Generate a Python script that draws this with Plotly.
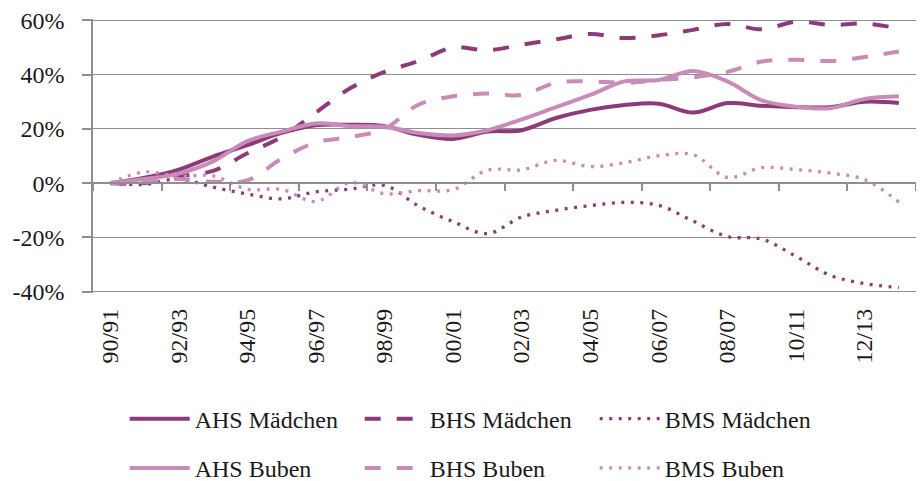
import plotly.graph_objects as go

years = ["90/91", "91/92", "92/93", "93/94", "94/95", "95/96", "96/97", "97/98",
         "98/99", "99/00", "00/01", "01/02", "02/03", "03/04", "04/05", "05/06",
         "06/07", "07/08", "08/09", "09/10", "10/11", "11/12", "12/13", "13/14"]
tick_labels = ["90/91", "92/93", "94/95", "96/97", "98/99", "00/01",
               "02/03", "04/05", "06/07", "08/07", "10/11", "12/13"]

ahs_maedchen = [0, 2, 5, 9.8, 14, 18.5, 21.3, 21.5, 21, 17.8, 16.3, 19,
                19.5, 24, 27, 28.8, 29.3, 26, 29.5, 28.5, 28, 28, 30, 29.5]
bhs_maedchen = [0, 0, 2.5, 4.5, 11, 17, 26, 35, 41, 45, 50, 49,
                51, 53, 55, 53.5, 54.5, 56.5, 58.7, 56.7, 59.5, 58.3, 58.8, 57]
bms_maedchen = [0, -0.5, 1.5, -1.5, -4, -5.8, -3.2, -2.2, -0.8, -8.5, -14.2, -18.6,
                -12.5, -10, -8.3, -7.1, -8.2, -14, -19.7, -20.6, -27, -34, -37, -38.5]
ahs_buben = [0, 1.5, 3.5, 8, 15.5, 19, 22, 21, 20.8, 18.5, 17.6, 19.5,
             23.5, 28, 32.5, 37.5, 38, 41.3, 37.5, 30.5, 28.2, 27.6, 31, 32]
bhs_buben = [0, 0.5, 1.5, 0.5, 1, 9, 15, 17, 20, 29, 32, 33,
             32.5, 37, 37.5, 37, 38, 39, 41, 44.8, 45.5, 45, 46.5, 48.5]
bms_buben = [0, 4.1, 2.5, 2.7, -2.3, -2.3, -6.8, 0.2, -3.9, -2.8, -2.4, 4.8,
             4.9, 8.4, 6.1, 7.5, 10.1, 10.5, 2.1, 5.7, 5, 3.7, 1.3, -7]
y_ticks = [-40, -20, 0, 20, 40, 60]
y_tick_labels = ["-40%", "-20%", "0%", "20%", "40%", "60%"]

DARK = "#8C3B78"
LIGHT = "#C98BB8"
GRID = "#8E8E8E"
FONT = "Liberation Serif"
TXT = "#1a1a1a"
FS = 24

x = list(range(len(years)))

series = [
    ("AHS Mädchen", ahs_maedchen, DARK, "solid", 4, "legend"),
    ("BHS Mädchen", bhs_maedchen, DARK, "16px,16px", 4, "legend"),
    ("BMS Mädchen", bms_maedchen, DARK, "3px,6.5px", 3.3, "legend"),
    ("AHS Buben", ahs_buben, LIGHT, "solid", 4, "legend2"),
    ("BHS Buben", bhs_buben, LIGHT, "16px,16px", 4, "legend2"),
    ("BMS Buben", bms_buben, LIGHT, "3px,6.5px", 3.3, "legend2"),
]

fig = go.Figure()
for name, vals, color, dash, width, leg in series:
    fig.add_trace(go.Scatter(
        x=x, y=vals, name=name, mode="lines",
        customdata=years,
        line=dict(color=color, dash=dash, width=width, shape="spline", smoothing=1),
        legend=leg,
    ))

# invisible trace carrying the tick-mark axis drawn at 0 %
fig.add_trace(go.Scatter(x=[x[0], x[-1]], y=[0, 0], xaxis="x2", mode="lines",
                         line=dict(width=0), showlegend=False, hoverinfo="skip"))

n = len(years)
boundary_ticks = [i - 0.5 for i in range(0, n + 1, 2)]
label_pos = list(range(0, n, 2))

legend_common = dict(
    orientation="h", xanchor="left", yanchor="middle",
    font=dict(family=FONT, size=FS, color=TXT),
    entrywidth=160, entrywidthmode="pixels", itemwidth=60,
    bgcolor="rgba(0,0,0,0)", itemclick=False,
)

y_lo, y_hi = y_ticks[0], y_ticks[-1]
pad = 0.5
zero_pos = (0 - (y_lo - pad)) / ((y_hi + pad) - (y_lo - pad))

# the page places the figure 8 px from the top-left corner
fig.update_layout(
    width=916, height=473, autosize=False,
    margin=dict(l=85, r=8, t=11, b=188, autoexpand=False),
    plot_bgcolor="white", paper_bgcolor="white",
    font=dict(family=FONT, size=FS, color=TXT),
    xaxis=dict(
        range=[-0.5, n - 0.5], tickmode="array", tickvals=label_pos, ticktext=tick_labels,
        tickangle=-90, ticks="", showgrid=False, zeroline=False, showline=False,
        ticklabelstandoff=10, tickfont=dict(family=FONT, size=FS, color=TXT),
    ),
    xaxis2=dict(
        range=[-0.5, n - 0.5], overlaying="x", anchor="free", position=zero_pos, side="bottom",
        tickmode="array", tickvals=boundary_ticks, ticks="outside", ticklen=7,
        tickwidth=1.5, tickcolor=GRID, showticklabels=False, showgrid=False,
        zeroline=False, showline=True, linecolor=GRID, linewidth=1.5,
    ),
    yaxis=dict(
        range=[y_lo - pad, y_hi + pad], tickmode="array",
        tickvals=y_ticks, ticktext=y_tick_labels, ticklabeloverflow="allow",
        showgrid=True, gridcolor=GRID, gridwidth=1.3, zeroline=False,
        showline=True, linecolor=GRID, linewidth=1.5,
        ticks="outside", ticklen=9, tickwidth=1.5, tickcolor=GRID,
        ticklabelstandoff=13, tickfont=dict(family=FONT, size=FS, color=TXT),
    ),
    legend=dict(x=0.0385, y=-0.46, **legend_common),
    legend2=dict(x=0.0385, y=-0.64, **legend_common),
    showlegend=True,
)

fig.write_html("out.html")
